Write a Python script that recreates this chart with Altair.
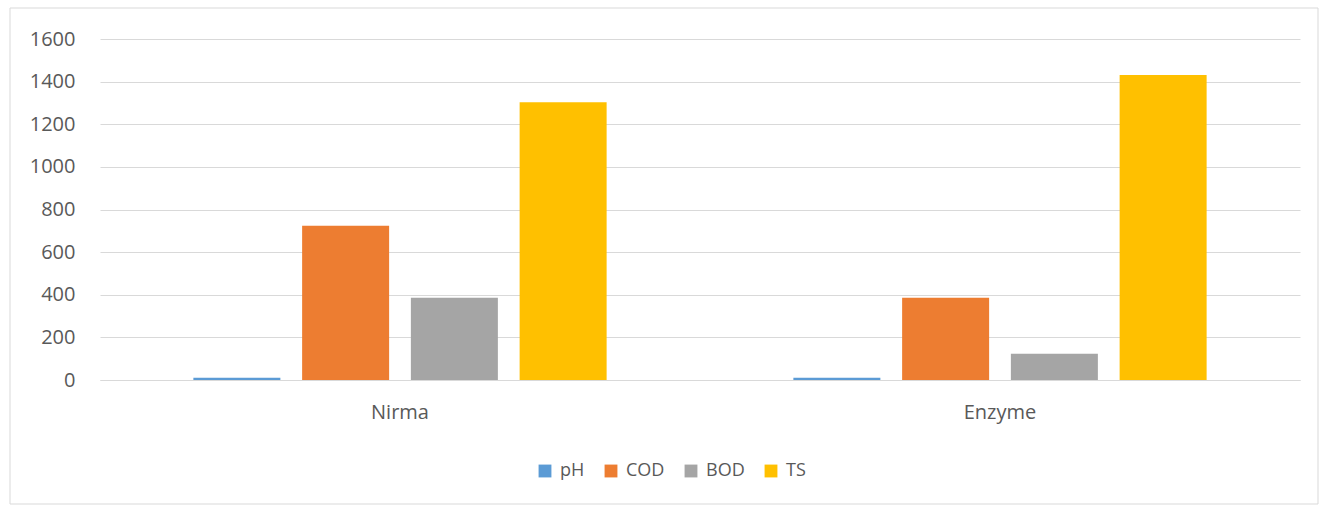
import altair as alt
import pandas as pd

categories = ["Nirma", "Enzyme"]
series = ["pH", "COD", "BOD", "TS"]
ph_values = [10, 10]
cod_values = [724, 386]
bod_values = [386, 123]
ts_values = [1303, 1431]
colors = ["#5B9BD5", "#ED7D31", "#A5A5A5", "#FFC000"]

rows = []
for i, c in enumerate(categories):
    for s, vals in zip(series, [ph_values, cod_values, bod_values, ts_values]):
        rows.append({"category": c, "series": s, "value": vals[i]})
df = pd.DataFrame(rows)

font = "Open Sans"
gray = "#595959"

bars = alt.Chart(df).mark_bar().encode(
    x=alt.X("category:N", sort=categories, title=None,
            scale=alt.Scale(paddingInner=0.275, paddingOuter=0.1375),
            axis=alt.Axis(labelAngle=0, ticks=False, domainColor="#d9d9d9",
                          labelPadding=22, labelFontSize=20, labelColor=gray,
                          labelFont=font, grid=False)),
    xOffset=alt.XOffset("series:N", sort=series,
                        scale=alt.Scale(paddingInner=0.2, paddingOuter=0.1)),
    y=alt.Y("value:Q", title=None,
            scale=alt.Scale(domain=[0, 1600], nice=False),
            axis=alt.Axis(values=list(range(0, 1601, 200)), format="d", ticks=False,
                          domain=False, gridColor="#d9d9d9", labelPadding=25,
                          labelFontSize=20, labelColor=gray, labelFont=font)),
    color=alt.Color("series:N", sort=series,
                    scale=alt.Scale(domain=series, range=colors),
                    legend=alt.Legend(title=None, orient="none", direction="horizontal",
                                      legendX=436, legendY=423, symbolType="square",
                                      symbolSize=165, symbolStrokeWidth=0,
                                      labelFontSize=18, labelColor=gray, labelFont=font,
                                      columnPadding=17, labelOffset=6)),
)

border = alt.Chart(pd.DataFrame({"a": [0]})).mark_rect(
    fill=None, stroke="#d9d9d9", strokeWidth=1
).encode(
    x=alt.value(-90), x2=alt.value(1218), y=alt.value(-31), y2=alt.value(465)
)

chart = alt.layer(border, bars).properties(
    width=1200, height=341,
    padding={"left": 100, "top": 39, "right": 24, "bottom": 126},
    autosize=alt.AutoSizeParams(type="none"),
    background="white",
).configure_view(stroke=None)

chart.save("out.html", embed_options={"renderer": "svg", "actions": False})
